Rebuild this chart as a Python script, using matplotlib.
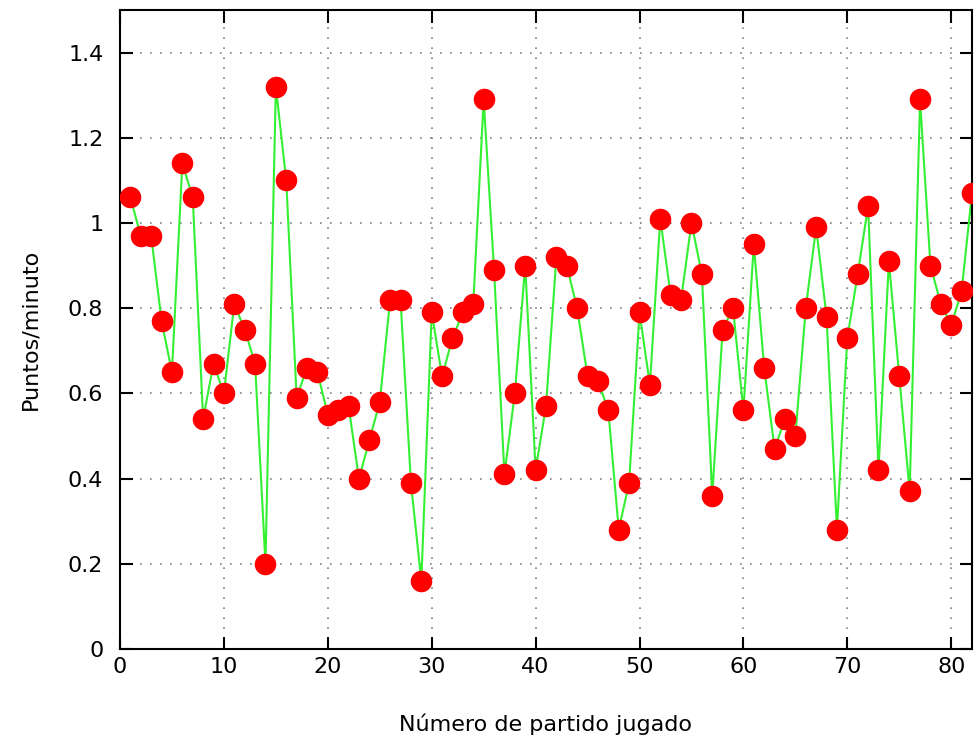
import numpy as np
import matplotlib
matplotlib.use("Agg")
import matplotlib.pyplot as plt
from matplotlib.ticker import FuncFormatter

# puntos por minuto en cada partido
partido = list(range(1, 83))
puntos_min = [
    1.06, 0.97, 0.97, 0.77, 0.65, 1.14, 1.06, 0.54, 0.67, 0.60,
    0.81, 0.75, 0.67, 0.20, 1.32, 1.10, 0.59, 0.66, 0.65, 0.55,
    0.56, 0.57, 0.40, 0.49, 0.58, 0.82, 0.82, 0.39, 0.16, 0.79,
    0.64, 0.73, 0.79, 0.81, 1.29, 0.89, 0.41, 0.60, 0.90, 0.42,
    0.57, 0.92, 0.90, 0.80, 0.64, 0.63, 0.56, 0.28, 0.39, 0.79,
    0.62, 1.01, 0.83, 0.82, 1.00, 0.88, 0.36, 0.75, 0.80, 0.56,
    0.95, 0.66, 0.47, 0.54, 0.50, 0.80, 0.99, 0.78, 0.28, 0.73,
    0.88, 1.04, 0.42, 0.91, 0.64, 0.37, 1.29, 0.90, 0.81, 0.76,
    0.84, 1.07,
]
xticks = [0, 10, 20, 30, 40, 50, 60, 70, 80]
yticks = [0, 0.2, 0.4, 0.6, 0.8, 1.0, 1.2, 1.4]

fig = plt.figure(figsize=(9.79, 7.45), dpi=100)
ax = fig.add_axes([120 / 979, 1 - 649 / 745, (972 - 120) / 979, (649 - 10) / 745])

ax.plot(partido, puntos_min, color='#33f033', lw=1.5, zorder=2)
ax.plot(partido, puntos_min, ls='none', marker='o', ms=14.5,
        mfc='#ff0000', mec='#ff0000', zorder=3)

ax.set_xlim(0, 82)
ax.set_ylim(0, 1.5)
ax.set_xticks(xticks)
ax.set_yticks(yticks)
ax.yaxis.set_major_formatter(FuncFormatter(lambda v, p: '%g' % v))

ax.grid(color='gray', linestyle=(0, (1, 5)), linewidth=1.2)
ax.set_axisbelow(True)
ax.tick_params(direction='in', length=9, width=1.5, top=True, right=True,
               labelsize=16)
ax.tick_params(axis='x', pad=6)
ax.tick_params(axis='y', pad=12)
for s in ax.spines.values():
    s.set_linewidth(1.5)

#labels
ax.set_xlabel("Número de partido jugado", fontsize=16, labelpad=26)
ax.set_ylabel("Puntos/minuto", fontsize=16, labelpad=20)

fig.savefig("out.png", dpi=100)
